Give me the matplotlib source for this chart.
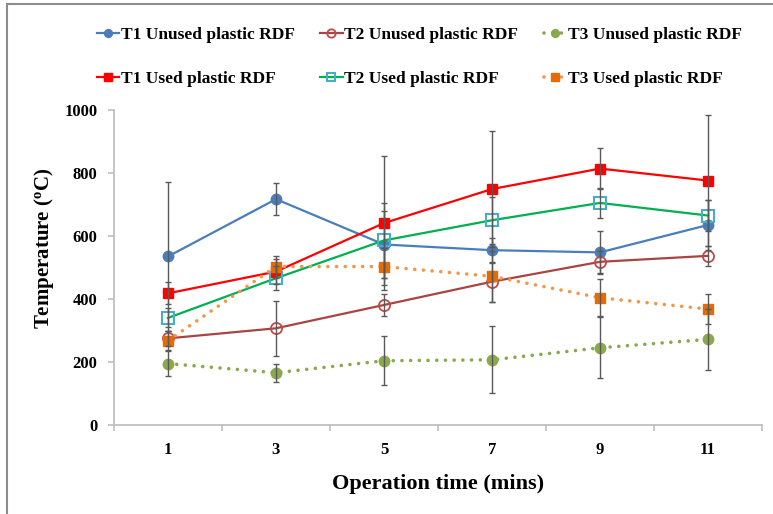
import numpy as np
import matplotlib
matplotlib.use('Agg')
import matplotlib.pyplot as plt
from matplotlib.patches import Rectangle

plt.rcParams['font.family'] = ['Liberation Serif', 'DejaVu Serif']
plt.rcParams['font.weight'] = 'bold'
plt.rcParams['mathtext.fontset'] = 'custom'
plt.rcParams['mathtext.rm'] = 'Liberation Serif'
plt.rcParams['mathtext.bf'] = 'Liberation Serif:bold'

# data
times = ['1', '3', '5', '7', '9', '11']
t1_unused = [535, 717, 573, 555, 548, 635]
t1_unused_err = [238, 51, 105, 40, 68, 80]
t2_unused = [275, 307, 381, 455, 518, 537]
t2_unused_err = [25, 87, 34, 63, 35, 31]
t3_unused = [195, 166, 204, 207, 245, 272]
t3_unused_err = [39, 28, 78, 106, 97, 96]
t1_used = [418, 487, 641, 749, 814, 776]
t1_used_err = [35, 40, 214, 183, 65, 209]
t2_used = [340, 466, 586, 650, 705, 665]
t2_used_err = [30, 39, 119, 75, 47, 50]
t3_used = [268, 503, 503, 472, 404, 368]
t3_used_err = [30, 35, 60, 80, 58, 47]

fig = plt.figure(figsize=(7.73, 5.14), dpi=100)
# outer chart border like excel
fig.patches.append(Rectangle((7/773, -0.1), 1.2, (514-4)/514 + 0.1, transform=fig.transFigure,
                             fill=False, edgecolor='#8c8c8c', linewidth=1.5))
ax = fig.add_axes([114/773, 89/514, 648/773, 315/514])

x = np.arange(len(times))
ekw = dict(ecolor='#595959', elinewidth=1.0, capsize=2, capthick=1.0, zorder=4)
dots = (0, (0.01, 2.4))

series = [
    (t1_unused, t1_unused_err, 'T1 Unused plastic RDF',
     dict(color='#4a7ebb', linestyle='-', linewidth=1.6, marker='o', markersize=7.5,
          markerfacecolor='#4a7ebb', markeredgecolor='#4a7ebb')),
    (t1_used, t1_used_err, 'T1 Used plastic RDF',
     dict(color='#ff0000', linestyle='-', linewidth=1.6, marker='s', markersize=7,
          markerfacecolor='#ff0000', markeredgecolor='#ff0000')),
    (t2_unused, t2_unused_err, 'T2 Unused plastic RDF',
     dict(color='#a84543', linestyle='-', linewidth=1.6, marker='o', markersize=8,
          markerfacecolor='none', markeredgecolor='#be4b48', markeredgewidth=1.3)),
    (t2_used, t2_used_err, 'T2 Used plastic RDF',
     dict(color='#00b050', linestyle='-', linewidth=1.6, marker='s', markersize=8,
          markerfacecolor='none', markeredgecolor='#4bacc6', markeredgewidth=1.5)),
    (t3_unused, t3_unused_err, 'T3 Unused plastic RDF',
     dict(color='#8aa84c', linestyle=dots, linewidth=2.6, dash_capstyle='round',
          marker='o', markersize=7.5, markerfacecolor='#8aa84c', markeredgecolor='#8aa84c')),
    (t3_used, t3_used_err, 'T3 Used plastic RDF',
     dict(color='#f79646', linestyle=dots, linewidth=2.6, dash_capstyle='round',
          marker='s', markersize=7, markerfacecolor='#e36c09', markeredgecolor='#e36c09')),
]

handles = []
for vals, errs, lab, kw in series:
    ax.errorbar(x, vals, yerr=errs, fmt='none', **ekw)
    h, = ax.plot(x, vals, label=lab, zorder=3, **kw)
    handles.append(h)

ax.set_xlim(-0.5, 5.5)
ax.set_ylim(0, 1000)
ax.set_yticks(np.arange(0, 1001, 200))
ax.set_xticks(x)
ax.set_xticklabels(times)
ax.set_xticks(np.arange(-0.5, 5.6, 1), minor=True)
ax.tick_params(axis='x', which='major', length=0, pad=12, labelsize=12)
ax.tick_params(axis='x', which='minor', length=4, color='#bfbfbf', width=1.2)
ax.tick_params(axis='y', length=4, color='#bfbfbf', width=1.2, pad=8, labelsize=12)

for s in ['top', 'right']:
    ax.spines[s].set_visible(False)
for s in ['left', 'bottom']:
    ax.spines[s].set_color('#bfbfbf')
    ax.spines[s].set_linewidth(1.3)

ax.set_xlabel('Operation time (mins)', fontsize=16, fontweight='bold', labelpad=12)
ax.set_ylabel(r'Temperature ($\mathbf{^{o}}$C)', fontsize=15, fontweight='bold')
ax.yaxis.set_label_coords(-0.090, 0.562)

fig.legend(handles=handles, loc='upper left', bbox_to_anchor=(81/773, 1 - 11/514),
           ncol=3, frameon=False, fontsize=12.5, handlelength=1.3, handletextpad=0.1,
           columnspacing=1.45, labelspacing=1.6, markerscale=0.75)

fig.savefig('out.png', dpi=100)
